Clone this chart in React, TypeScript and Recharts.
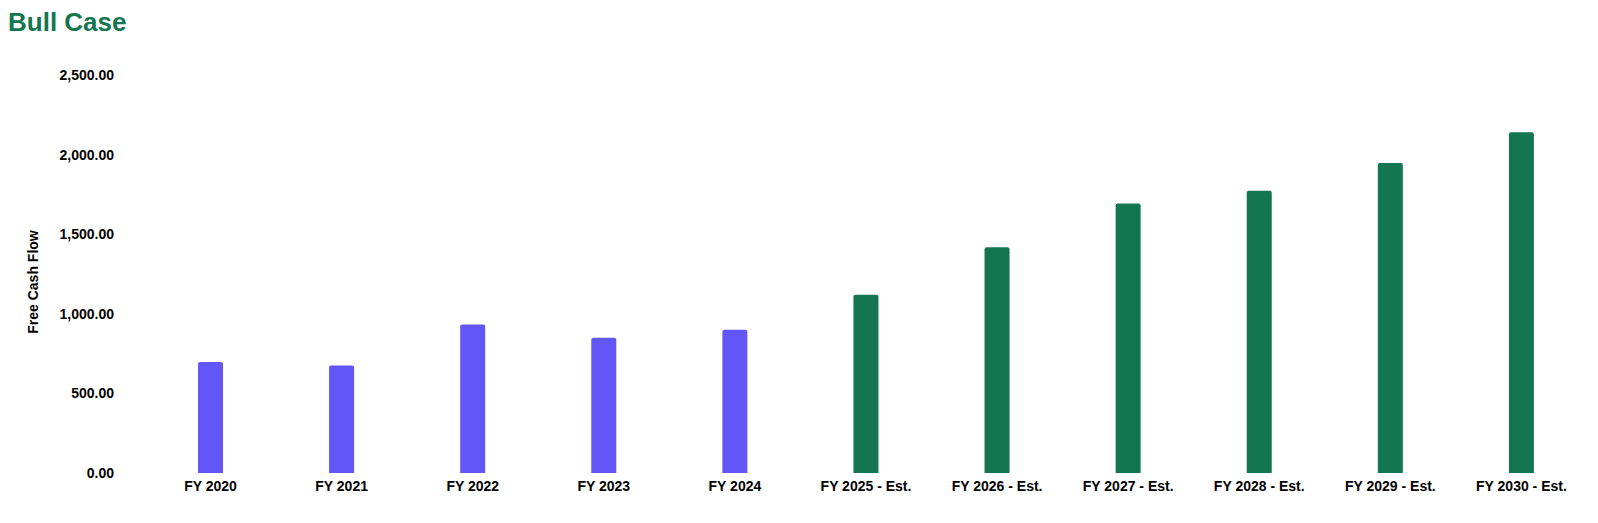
import { BarChart, Bar, XAxis, YAxis, Cell, Label } from 'recharts';

const categories = [
  'FY 2020', 'FY 2021', 'FY 2022', 'FY 2023', 'FY 2024',
  'FY 2025 - Est.', 'FY 2026 - Est.', 'FY 2027 - Est.', 'FY 2028 - Est.', 'FY 2029 - Est.', 'FY 2030 - Est.',
];
const freeCashFlow = [698, 675, 933, 850, 900, 1120, 1418, 1693, 1773, 1948, 2140];
const yTicks = [0, 500, 1000, 1500, 2000, 2500];

const ACTUAL_COLOR = '#6257f6';
const ESTIMATE_COLOR = '#137650';
const FONT = '"Liberation Sans", Arial, Helvetica, sans-serif';

const data = categories.map((name, i) => ({ name, value: freeCashFlow[i] }));

const fmt = (v: number) =>
  v.toLocaleString('en-US', { minimumFractionDigits: 2, maximumFractionDigits: 2 });

export default function App() {
  return (
    <div style={{ position: 'relative', width: 1598, height: 523, margin: -8, background: '#fff', fontFamily: FONT }}>
      <div
        style={{
          position: 'absolute',
          left: 8,
          top: 9,
          fontSize: 26,
          lineHeight: '26px',
          fontWeight: 700,
          color: ESTIMATE_COLOR,
          zIndex: 1,
        }}
      >
        Bull Case
      </div>
      <BarChart
        width={1598}
        height={523}
        data={data}
        margin={{ top: 75, right: 11, bottom: 20, left: 0 }}
        barCategoryGap={0}
      >
        <XAxis
          dataKey="name"
          height={30}
          axisLine={false}
          tickLine={false}
          tickSize={0}
          tickMargin={8}
          interval={0}
          tick={{ fill: '#000', fontSize: 14, fontWeight: 700, fontFamily: FONT }}
        />
        <YAxis
          width={145}
          domain={[0, 2500]}
          ticks={yTicks}
          axisLine={false}
          tickLine={false}
          tickSize={0}
          tickMargin={31}
          tickFormatter={fmt}
          tick={{ fill: '#000', fontSize: 14, fontWeight: 700, fontFamily: FONT }}
        >
          <Label
            content={() => (
              <text
                x={33}
                y={282}
                transform="rotate(-90, 33, 282)"
                textAnchor="middle"
                dominantBaseline="central"
                fill="#000"
                fontSize={14}
                fontWeight={700}
                fontFamily={FONT}
              >
                Free Cash Flow
              </text>
            )}
          />
        </YAxis>
        <Bar dataKey="value" barSize={25} radius={[2, 2, 0, 0]} isAnimationActive={false}>
          {data.map((d, i) => (
            <Cell key={`cell-${i}`} fill={d.name.includes('Est.') ? ESTIMATE_COLOR : ACTUAL_COLOR} />
          ))}
        </Bar>
      </BarChart>
    </div>
  );
}
